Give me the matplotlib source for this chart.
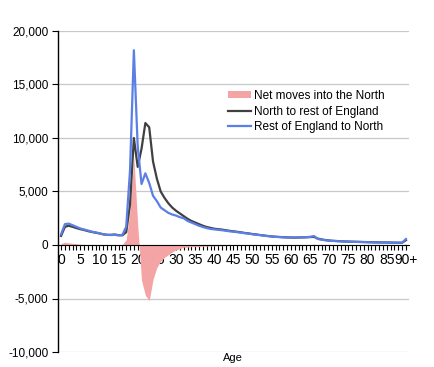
import matplotlib
matplotlib.use("Agg")
import matplotlib.pyplot as plt
import numpy as np

plt.rcParams['font.family'] = ['Liberation Sans', 'DejaVu Sans']

ages = list(range(91))
age_labels = [str(a) if a % 5 == 0 else '' for a in ages]
age_labels[90] = '90+'

# rest of England -> North
rest_to_north = [
    1000, 1950, 2000, 1850, 1700, 1550, 1450, 1350, 1250, 1180,
    1100, 1000, 950, 930, 950, 900, 950, 1700, 7000, 18200,
    9200, 5700, 6700, 5800, 4600, 4100, 3500, 3250, 3000, 2850,
    2750, 2600, 2500, 2250, 2100, 1950, 1800, 1680, 1580, 1500,
    1460, 1420, 1380, 1330, 1280, 1240, 1200, 1150, 1100, 1060,
    1000, 960, 920, 870, 830, 790, 760, 740, 720, 700,
    700, 700, 710, 720, 740, 760, 840, 560, 500, 440,
    400, 380, 360, 340, 320, 310, 300, 290, 280, 270,
    260, 250, 240, 235, 230, 225, 220, 215, 210, 220,
    560,
]

# North -> rest of England
north_to_rest = [
    850, 1700, 1800, 1700, 1580, 1480, 1400, 1300, 1220, 1150,
    1080, 1000, 950, 950, 980, 920, 900, 1200, 3800, 10000,
    7300, 9000, 11400, 11000, 7800, 6200, 5000, 4400, 3900, 3500,
    3200, 2950, 2700, 2450, 2250, 2100, 1950, 1800, 1680, 1600,
    1520, 1480, 1440, 1380, 1320, 1280, 1230, 1180, 1120, 1080,
    1020, 980, 930, 880, 840, 800, 770, 750, 730, 710,
    700, 690, 700, 710, 720, 740, 760, 600, 520, 460,
    420, 390, 370, 350, 330, 320, 310, 300, 290, 280,
    270, 260, 250, 245, 240, 235, 230, 220, 215, 210,
    450,
]

net = np.array(rest_to_north) - np.array(north_to_rest)

fig = plt.figure(figsize=(4.35, 3.67), dpi=100)
ax = fig.add_axes([58 / 435, 15 / 367, 351 / 435, 321 / 367])

ax.fill_between(ages, 0, net, color='#F4A4A4', linewidth=0, interpolate=True,
                label='Net moves into the North', zorder=2)
ax.plot(ages, north_to_rest, color='#404040', lw=1.6, label='North to rest of England', zorder=3)
ax.plot(ages, rest_to_north, color='#5A7FE6', lw=1.6, label='Rest of England to North', zorder=4)

ax.set_xlim(-0.8, 90.8)
ax.set_ylim(-10000, 20000)
ax.set_yticks([-10000, -5000, 0, 5000, 10000, 15000, 20000])
ax.set_yticklabels(['-10,000', '-5,000', '0', '5,000', '10,000', '15,000', '20,000'], fontsize=8.5)
ax.set_xticks(ages)
ax.set_xticklabels(age_labels, fontsize=7)
ax.tick_params(axis='x', length=3.5, width=0.8, pad=2)
ax.tick_params(axis='y', length=4, width=0.8, pad=3)

ax.grid(axis='y', color='#C8C8C8', lw=0.9)
ax.set_axisbelow(True)
for s in ['top', 'right']:
    ax.spines[s].set_visible(False)
ax.spines['bottom'].set_position(('data', 0))
ax.spines['bottom'].set_zorder(5)
ax.spines['left'].set_linewidth(1.0)

fig.text(233 / 435, 1 - 358 / 367, 'Age', ha='center', va='center', fontsize=8)

ax.legend(loc='center left', bbox_to_anchor=(0.483, 0.749), frameon=False,
          fontsize=8.5, borderpad=0, borderaxespad=0, handlelength=2.0,
          handletextpad=0.2, labelspacing=0.3, handleheight=0.5)

fig.savefig('out.png', dpi=100)
